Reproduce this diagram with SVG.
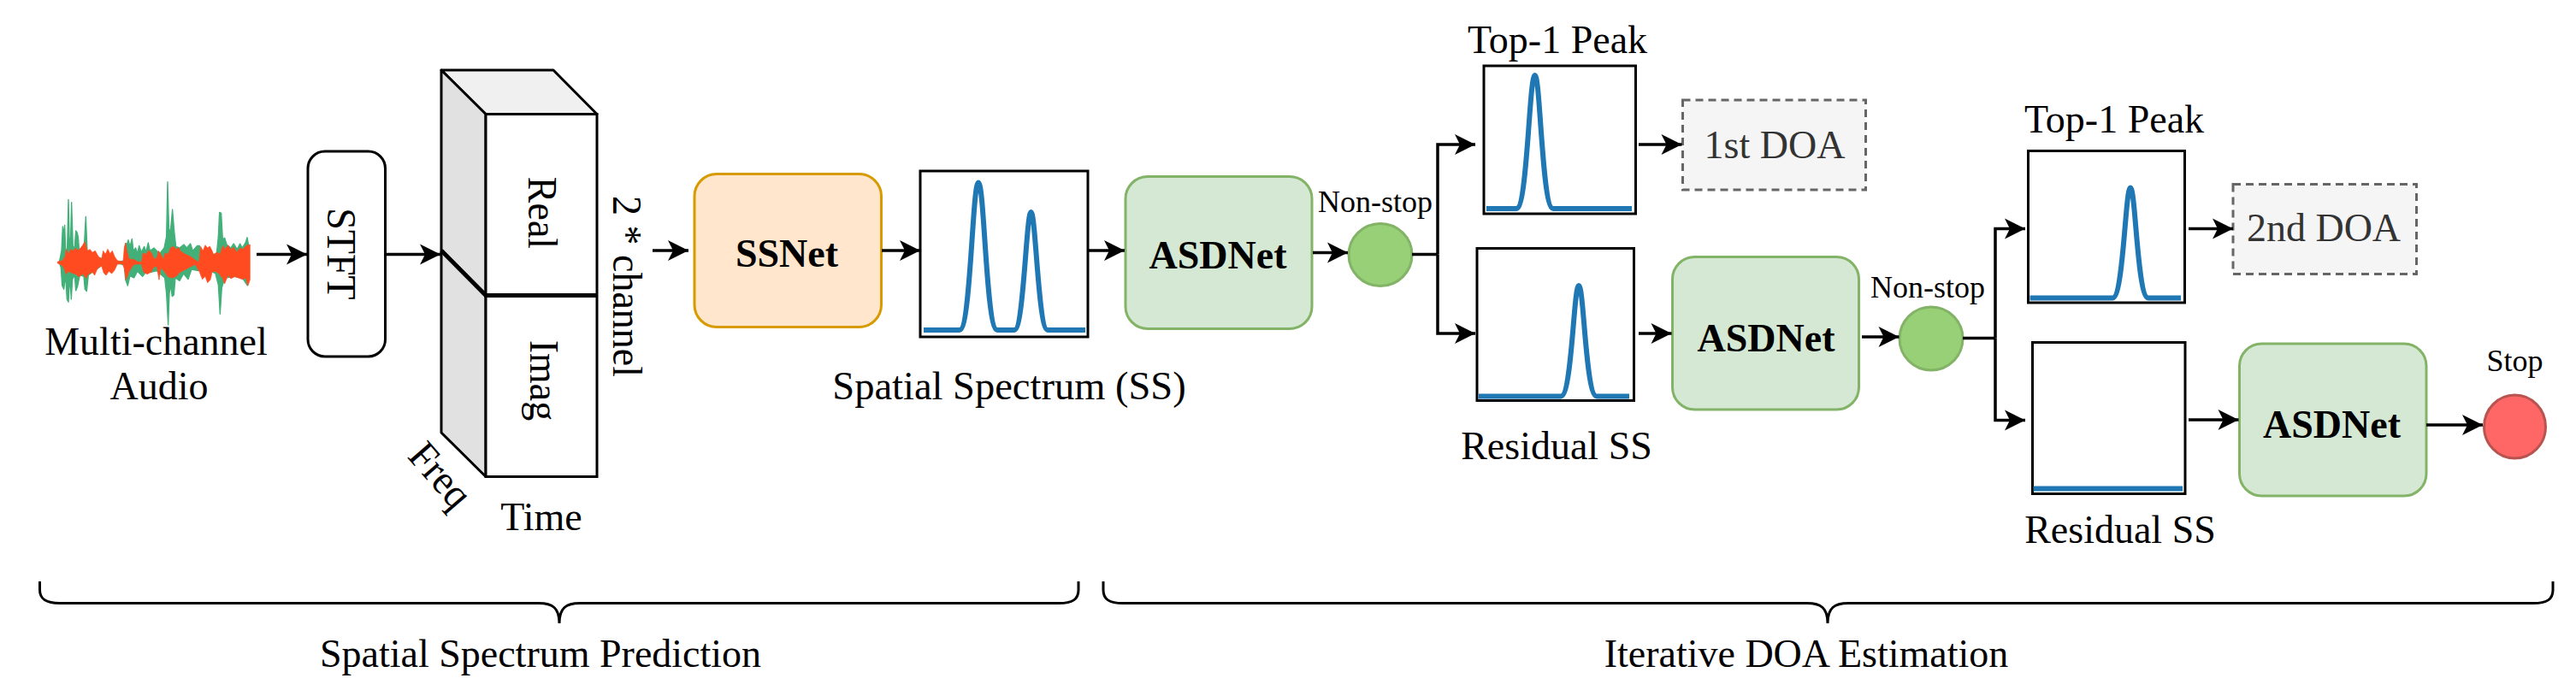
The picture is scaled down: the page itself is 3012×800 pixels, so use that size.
<svg xmlns="http://www.w3.org/2000/svg" width="3012" height="800" viewBox="0 0 3012 800">
<style>
text{font-family:"Liberation Serif","Times New Roman",serif;font-size:46px;fill:#000;text-anchor:middle}
.b{font-weight:bold}
.s{font-size:36px}
.g{fill:#333}
.box{fill:#fff;stroke:#000;stroke-width:3}
.asd{fill:#d5e8d4;stroke:#82b366;stroke-width:3}
.go{fill:#97d077;stroke:#82b366;stroke-width:3}
.doa{fill:#f5f5f5;stroke:#666;stroke-width:3;stroke-dasharray:9 6}
.cv{fill:none;stroke:#1f77b4;stroke-width:6}
.c{fill:none;stroke:#000;stroke-width:3.5}
.a{marker-end:url(#ah)}
.br{fill:none;stroke:#000;stroke-width:3}
</style>
<defs>
<marker id="ah" markerUnits="userSpaceOnUse" markerWidth="26" markerHeight="26" refX="24" refY="12" orient="auto" overflow="visible">
<path d="M0,0 L24,12 L0,24 L6,12 Z" fill="#000"/>
</marker>
</defs>

<g id="audio">
<g transform="translate(40,210) scale(0.3333)">
<path fill="#43b079" stroke="#43b079" stroke-width="4" stroke-linejoin="round" d="M88,290 L96,250 L100,165 L104,190 L107,160 L111,270 L116,240 L120,70 L124,240 L128,200 L131,80 L136,240 L142,235 L146,180 L150,185 L154,200 L158,250 L170,240 L176,220 L181,130 L186,250 L200,270 L300,288 L316,285 L320,225 L326,225 L330,212 L336,235 L343,208 L348,250 L356,240 L362,260 L368,232 L376,255 L386,235 L392,255 L400,222 L406,250 L420,240 L440,260 L456,240 L464,200 L468,8 L473,190 L479,170 L485,105 L491,180 L497,235 L510,240 L525,228 L535,240 L548,225 L556,250 L572,232 L580,232 L590,270 L640,260 L646,200 L650,115 L656,118 L661,210 L668,205 L676,230 L690,240 L700,225 L712,245 L722,225 L730,240 L742,220 L747,203 L752,230 L752,340 L748,372 L730,345 L700,340 L670,345 L664,360 L658,380 L652,472 L646,370 L636,330 L600,310 L575,320 L552,315 L540,350 L524,330 L510,355 L495,345 L490,405 L484,410 L478,370 L474,400 L470,510 L464,400 L458,345 L430,320 L410,325 L396,320 L380,340 L362,322 L350,345 L336,338 L328,372 L320,350 L316,300 L300,295 L240,300 L190,335 L184,392 L178,385 L174,340 L160,335 L152,375 L146,390 L142,335 L134,350 L130,420 L125,340 L120,430 L115,420 L110,335 L104,385 L98,372 L94,310 Z"/>
<path fill="#ff4b1f" stroke="#ff4b1f" stroke-width="2" stroke-linejoin="round" d="M82,288 L100,284 L108,270 L113,244 L120,262 L128,245 L136,250 L146,240 L154,250 L164,238 L172,228 L178,218 L186,250 L196,245 L204,256 L214,250 L224,268 L236,280 L242,250 L250,262 L258,244 L266,260 L274,250 L282,270 L292,285 L312,288 L316,240 L320,222 L326,255 L334,280 L350,280 L362,288 L376,290 L382,258 L392,262 L402,248 L412,258 L420,278 L430,275 L436,250 L444,262 L452,280 L460,258 L470,262 L478,240 L490,235 L498,246 L506,238 L514,252 L530,262 L548,270 L565,282 L578,290 L584,235 L592,250 L600,230 L608,240 L616,234 L624,250 L630,265 L640,255 L652,262 L662,232 L670,245 L680,230 L690,245 L700,238 L710,256 L722,240 L732,245 L744,232 L757,228 L757,352 L750,372 L742,345 L730,350 L716,345 L704,340 L690,348 L680,335 L668,366 L660,345 L648,330 L634,322 L624,325 L618,352 L608,362 L600,340 L590,350 L580,325 L565,298 L550,305 L530,316 L510,326 L498,340 L486,345 L470,342 L456,322 L444,310 L438,352 L430,305 L420,306 L410,325 L396,332 L384,325 L376,296 L350,298 L334,320 L322,352 L316,312 L310,296 L292,296 L282,318 L272,330 L262,322 L252,336 L244,328 L236,302 L222,312 L212,336 L204,325 L190,332 L182,346 L170,330 L158,342 L146,332 L132,328 L120,322 L112,332 L104,310 L96,300 L82,294 Z"/>
</g>
<text x="182.500" y="414.500">Multi-channel</text>
<text x="186" y="467">Audio</text>
</g>

<g id="stft">
<rect x="360" y="177" width="90.500" height="240" rx="20" ry="20" fill="#fff" stroke="#000" stroke-width="3"/>
<text transform="translate(382.500,297) rotate(90) scale(1,1.05)">STFT</text>
</g>

<g id="tensor">
<polygon points="516,82 647,82 698,133.500 568,133.500" fill="#f0f0f0" stroke="#000" stroke-width="3" stroke-linejoin="round"/>
<polygon points="516,82 568,133.500 568,557.500 516,506" fill="#e1e1e1" stroke="#000" stroke-width="3" stroke-linejoin="round"/>
<rect x="568" y="133.500" width="130" height="424" fill="#fff" stroke="#000" stroke-width="3"/>
<path d="M516,293 L568,345.500 H698" fill="none" stroke="#000" stroke-width="5"/>
<text transform="translate(618,249) rotate(90) scale(1,1.07)">Real</text>
<text transform="translate(620,445) rotate(90) scale(1,1.07)">Imag</text>
<text transform="translate(717,335) rotate(90) scale(1,1.07)">2 * channel</text>
<text transform="translate(503,566) rotate(49) scale(1,1.05)">Freq</text>
<text x="633" y="619.500">Time</text>
</g>

<g id="ssnet">
<rect x="812" y="203.500" width="218.500" height="179" rx="26" ry="26" fill="#ffe6cc" stroke="#d79b00" stroke-width="3"/>
<text class="b" x="920" y="312">SSNet</text>
</g>

<g id="spectrum">
<rect class="box" x="1076" y="200" width="196" height="194"/>
<path class="cv" d="M1080,386 H1122 C1135,386 1137,213.500 1144,213.500 C1151,213.500 1153,386 1166,386 H1186 C1197,386 1200,248 1205.500,248 C1211,248 1214,386 1225,386 H1269"/>
<text x="1180" y="466.500" style="font-size:46.500px">Spatial Spectrum (SS)</text>
</g>

<g id="asdnet1">
<rect class="asd" x="1316" y="206.500" width="218" height="178" rx="26" ry="26"/>
<text class="b" x="1424" y="314">ASDNet</text>
</g>

<g id="decision1">
<ellipse class="go" cx="1614" cy="298" rx="37" ry="36.500"/>
<text class="s" x="1608" y="248">Non-stop</text>
</g>

<g id="peak1">
<rect class="box" x="1735" y="77" width="177.500" height="173"/>
<path class="cv" d="M1738,244 H1773 C1786,244 1788,88 1794.700,88 C1801,88 1803,244 1816,244 H1908"/>
<text x="1821" y="61.500">Top-1 Peak</text>
</g>

<g id="doa1">
<rect class="doa" x="1967.500" y="117" width="214" height="105"/>
<text class="g" x="2075" y="184.500">1st DOA</text>
</g>

<g id="residual1">
<rect class="box" x="1727" y="290.500" width="183.500" height="178"/>
<path class="cv" d="M1729,463.500 H1825 C1838,463.500 1840,334 1846,334 C1852,334 1854,463.500 1867,463.500 H1905"/>
<text x="1820" y="537">Residual SS</text>
</g>

<g id="asdnet2">
<rect class="asd" x="1955.500" y="300.500" width="218" height="178.500" rx="26" ry="26"/>
<text class="b" x="2065" y="411">ASDNet</text>
</g>

<g id="decision2">
<ellipse class="go" cx="2258" cy="396" rx="37" ry="37"/>
<text class="s" x="2254" y="348">Non-stop</text>
</g>

<g id="peak2">
<rect class="box" x="2371.500" y="176.500" width="183" height="177.500"/>
<path class="cv" d="M2373.500,348.500 H2470 C2483,348.500 2485,219.500 2491,219.500 C2497,219.500 2499,348.500 2512,348.500 H2550"/>
<text x="2472" y="154.500">Top-1 Peak</text>
</g>

<g id="doa2">
<rect class="doa" x="2611" y="215.500" width="214.500" height="105"/>
<text class="g" x="2717" y="281.500">2nd DOA</text>
</g>

<g id="residual2">
<rect class="box" x="2376.500" y="400.500" width="178.500" height="177"/>
<path class="cv" d="M2377.500,571.500 H2552"/>
<text x="2479" y="635">Residual SS</text>
</g>

<g id="asdnet3">
<rect class="asd" x="2618.500" y="402" width="218.500" height="178" rx="26" ry="26"/>
<text class="b" x="2726.500" y="511.500">ASDNet</text>
</g>

<g id="stop">
<ellipse cx="2940.500" cy="499" rx="36" ry="37" fill="#ff6666" stroke="#b85450" stroke-width="3"/>
<text class="s" x="2940.500" y="434">Stop</text>
</g>

<g id="connectors">
<path class="c a" d="M300,297.500 H359"/>
<path class="c a" d="M451,297.500 H515"/>
<path class="c a" d="M763,293 H805"/>
<path class="c a" d="M1031,293 H1076"/>
<path class="c a" d="M1272,293 H1315"/>
<path class="c a" d="M1535,295.500 H1576"/>
<path class="c" d="M1651,297.500 H1681"/>
<path class="c a" d="M1681,297.500 V169 H1725"/>
<path class="c a" d="M1681,297.500 V390 H1725"/>
<path class="c a" d="M1916,169 H1966.500"/>
<path class="c a" d="M1916,390 H1954.500"/>
<path class="c a" d="M2177,394 H2220.500"/>
<path class="c" d="M2295,395.500 H2333"/>
<path class="c a" d="M2333,395.500 V267.500 H2368"/>
<path class="c a" d="M2333,395.500 V491.500 H2368"/>
<path class="c a" d="M2559,267.500 H2611"/>
<path class="c a" d="M2559,491 H2617.500"/>
<path class="c a" d="M2837,497 H2903"/>
</g>

<g id="brace-prediction">
<path class="br" d="M46.500,680 V690 C46.500,701 54,705.500 70,705.500 H630 C646,705.500 654,711 654,729 C654,711 662,705.500 678,705.500 H1238 C1254,705.500 1261,701 1261,690 V680"/>
<text x="632" y="780">Spatial Spectrum Prediction</text>
</g>

<g id="brace-doa">
<path class="br" d="M1290,680 V690 C1290,701 1297,705.500 1313,705.500 H2113 C2129,705.500 2137,711 2137,729 C2137,711 2145,705.500 2161,705.500 H2962 C2978,705.500 2985,701 2985,690 V680"/>
<text x="2112" y="780">Iterative DOA Estimation</text>
</g>
</svg>
